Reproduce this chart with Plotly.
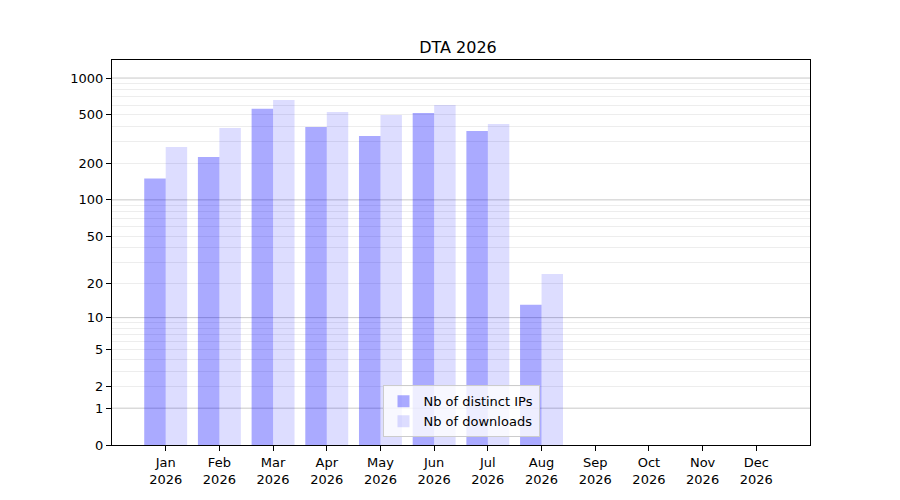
import numpy as np
import plotly.graph_objects as go

months = ["Jan", "Feb", "Mar", "Apr", "May", "Jun", "Jul", "Aug", "Sep", "Oct", "Nov", "Dec"]
year = "2026"
distinct_ips = [150, 225, 560, 397, 335, 518, 368, 13, 0, 0, 0, 0]
downloads = [272, 390, 660, 527, 498, 602, 421, 24, 0, 0, 0, 0]
ytick_vals = [0, 1, 2, 5, 10, 20, 50, 100, 200, 500, 1000]
major_grid = [1, 10, 100, 1000]
minor_grid = [m * d for d in (1, 10, 100) for m in range(2, 10)]

# symlog-like scale: y = log10(1 + value)
def tr(v):
    return np.log10(1 + np.asarray(v, dtype=float))

x = np.arange(len(months))
font = "DejaVu Sans, Liberation Sans, sans-serif"

fig = go.Figure()
fig.add_trace(go.Bar(
    x=x, y=tr(distinct_ips), width=0.4, offset=-0.4,
    name="Nb of distinct IPs",
    marker=dict(color="rgba(0,0,255,0.333)", line=dict(width=0)),
))
fig.add_trace(go.Bar(
    x=x, y=tr(downloads), width=0.4, offset=0,
    name="Nb of downloads",
    marker=dict(color="rgba(0,0,255,0.133)", line=dict(width=0)),
))

for v in major_grid:
    fig.add_hline(y=float(tr(v)), line=dict(color="rgba(0,0,0,0.22)", width=1), layer="below")

fig.update_layout(
    width=900, height=500,
    margin=dict(l=104, r=98, t=52, b=63),
    plot_bgcolor="white", paper_bgcolor="white",
    barmode="overlay",
    font=dict(family=font, size=13, color="black"),
    title=dict(text="DTA 2026", x=0.5, xanchor="center", y=0.911, yanchor="bottom",
               font=dict(size=16)),
    legend=dict(x=0.5, xanchor="center", y=0.02, yanchor="bottom",
                bgcolor="rgba(255,255,255,0.8)", bordercolor="#cccccc", borderwidth=1,
                font=dict(size=13)),
    showlegend=True,
)
fig.update_xaxes(
    range=[-1.0, 12.0], tickmode="array", tickvals=x,
    ticktext=[f"{m}<br>{year}" for m in months],
    showgrid=False, zeroline=False,
    showline=True, linecolor="black", linewidth=1, mirror=True,
    ticks="outside", ticklen=5, tickcolor="black",
)
fig.update_yaxes(
    range=[0, 3.148], tickmode="array", tickvals=tr(ytick_vals),
    ticktext=[str(v) for v in ytick_vals],
    showgrid=False, zeroline=False,
    showline=True, linecolor="black", linewidth=1, mirror=True,
    ticks="outside", ticklen=5, tickcolor="black",
    minor=dict(tickmode="array", tickvals=tr(minor_grid), showgrid=True,
               gridcolor="rgba(0,0,0,0.07)", gridwidth=1, ticks=""),
)

fig.write_html("out.html")
